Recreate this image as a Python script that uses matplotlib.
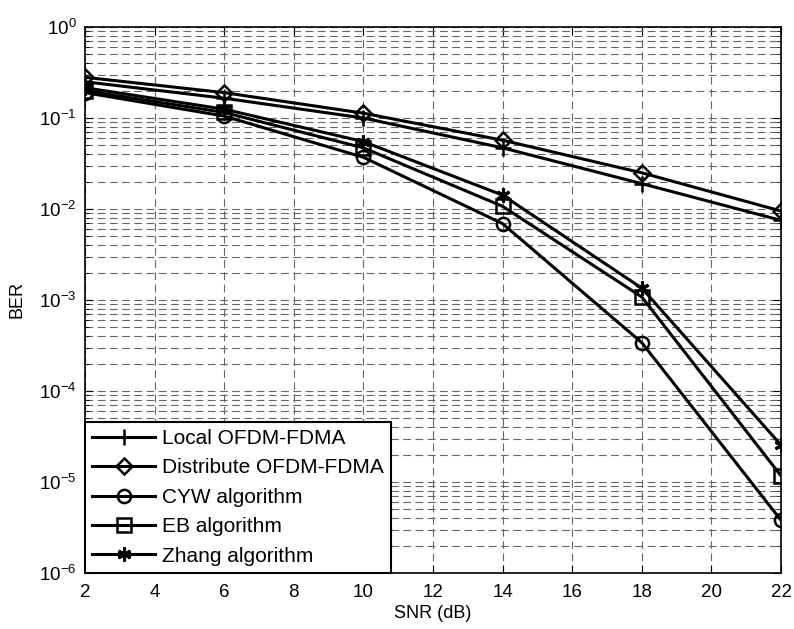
import matplotlib
matplotlib.use("Agg")
import matplotlib.pyplot as plt
from matplotlib.ticker import LogLocator, NullFormatter, FuncFormatter
import math

plt.rcParams['font.family'] = ['Liberation Sans', 'DejaVu Sans']
plt.rcParams['mathtext.default'] = 'regular'
plt.rcParams['mathtext.fontset'] = 'custom'
plt.rcParams['mathtext.rm'] = 'Liberation Sans'
plt.rcParams['axes.unicode_minus'] = False

snr = [2, 6, 10, 14, 18, 22]
local_ber = [0.25, 0.165, 0.10, 0.047, 0.019, 0.0075]
distrib_ber = [0.28, 0.19, 0.113, 0.057, 0.025, 0.0095]
cyw_ber = [0.19, 0.105, 0.037, 0.0069, 0.00034, 3.8e-6]
eb_ber = [0.20, 0.115, 0.047, 0.0107, 0.00108, 1.17e-5]
zhang_ber = [0.215, 0.125, 0.055, 0.0142, 0.00135, 2.55e-5]

labels = ["Local OFDM-FDMA", "Distribute OFDM-FDMA", "CYW algorithm",
          "EB algorithm", "Zhang algorithm"]
xticks = [2, 4, 6, 8, 10, 12, 14, 16, 18, 20, 22]

fig = plt.figure(figsize=(7.94, 6.29), dpi=100)
ax = fig.add_axes([85 / 794, 1 - 573 / 629, (781 - 85) / 794, (573 - 27) / 629])

common = dict(color='black', linewidth=2.2, markerfacecolor='none',
              markeredgecolor='black', markeredgewidth=1.8)
ax.semilogy(snr, local_ber, marker='+', markersize=12, label=labels[0], **common)
ax.semilogy(snr, distrib_ber, marker='D', markersize=8.5, label=labels[1], **common)
ax.semilogy(snr, cyw_ber, marker='o', markersize=9.5, label=labels[2], **common)
ax.semilogy(snr, eb_ber, marker='s', markersize=9.5, label=labels[3], **common)
zc = dict(common)
zc['markerfacecolor'] = 'black'
zc['markeredgewidth'] = 2.2
ax.semilogy(snr, zhang_ber, marker=(6, 2, 0), markersize=10, label=labels[4], **zc)

ax.set_xlim(2, 22)
ax.set_ylim(1e-6, 1)
ax.set_xticks(xticks)
ax.set_xticklabels([str(t) for t in xticks])
ax.yaxis.set_major_locator(LogLocator(base=10, numticks=10))
ax.yaxis.set_major_formatter(FuncFormatter(
    lambda v, p: r'$10^{%d}$' % int(round(math.log10(v)))))
ax.yaxis.set_minor_locator(LogLocator(base=10, subs=range(2, 10), numticks=100))
ax.yaxis.set_minor_formatter(NullFormatter())

ax.grid(True, which='major', linestyle=(0, (7, 4)), color='#666666', linewidth=0.8)
ax.grid(True, which='minor', axis='y', linestyle=(0, (7, 4)), color='#666666', linewidth=0.8)

ax.tick_params(which='both', direction='in', top=True, right=True, labelsize=13.5)
ax.tick_params(axis='x', which='major', pad=8)
ax.tick_params(axis='y', which='major', pad=6)
ax.tick_params(which='major', length=6)
ax.tick_params(which='minor', length=3)
for s in ax.spines.values():
    s.set_linewidth(1.2)

ax.set_xlabel("SNR (dB)", fontsize=13, labelpad=3)
ax.set_ylabel("BER", fontsize=13, labelpad=10)

leg = ax.legend(loc='lower left', fontsize=15, frameon=True, fancybox=False,
                edgecolor='black', borderaxespad=0.0, handlelength=3.0,
                handletextpad=0.35, labelspacing=0.5, borderpad=0.35,
                framealpha=1.0)
leg.get_frame().set_linewidth(1.5)

fig.savefig("out.png", dpi=100)
